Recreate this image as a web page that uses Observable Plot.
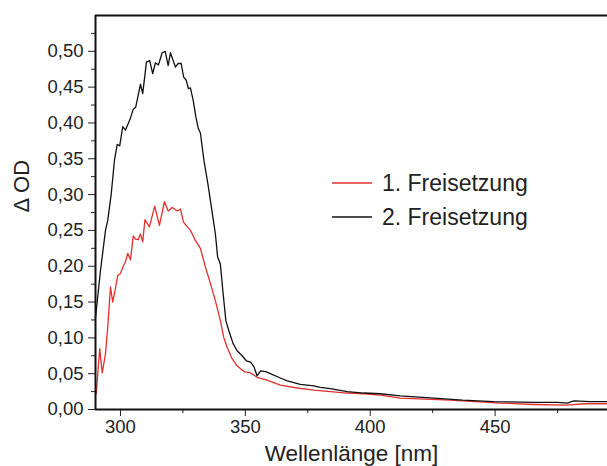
<!DOCTYPE html>
<html>
<head>
<meta charset="utf-8">
<script src="https://cdn.jsdelivr.net/npm/d3@7"></script>
<script src="https://cdn.jsdelivr.net/npm/@observablehq/plot@0.6"></script>
<style>
  html, body { margin: 0; padding: 0; background: #fff; }
  #wrap { position: relative; width: 607px; height: 466px; font-family: "Liberation Sans", Arial, sans-serif; }
  #legend { position: absolute; left: 332px; top: 166px; font-size: 23px; color: #222; line-height: 34px; }
  #legend .row { display: flex; align-items: center; height: 34px; }
  #legend svg { margin-right: 10px; }
</style>
</head>
<body>
<div id="wrap"><div id="chart"></div>
<div id="legend"></div></div>
<script>
// Wavelength (nm) and ΔOD for the two release experiments
const seriesNames = ["1. Freisetzung", "2. Freisetzung"];
const seriesColors = ["#e3302d", "#111111"];

const wl1 = [290.3,291.7,292.7,294,294.9,296,296.9,298,298.9,300,301.1,302,302.9,304,305.1,306,307.1,308,308.9,309.8,311.6,313.7,315.6,317.6,319.1,320.7,322.7,324,325.2,326.5,328,330,332,334,336,338,340,341.3,342.7,344.7,346.7,349.4,352.1,354.7,358.7,364,370.8,377.4,384,390.8,397.4,404,412,432,452,465.5,478.8,485.5,494.8];
const od1 = [0.022,0.085,0.051,0.078,0.115,0.171,0.150,0.169,0.187,0.190,0.200,0.206,0.218,0.209,0.242,0.238,0.237,0.245,0.234,0.265,0.255,0.284,0.257,0.290,0.277,0.282,0.277,0.280,0.262,0.256,0.250,0.236,0.225,0.199,0.176,0.152,0.124,0.101,0.087,0.071,0.061,0.053,0.051,0.045,0.041,0.034,0.030,0.027,0.025,0.023,0.022,0.020,0.016,0.013,0.009,0.007,0.006,0.008,0.008];

const wl2 = [290,292,294,294.9,296.3,297.6,298.7,299.7,300.9,302,303.7,305.1,306.1,308,308.9,310.4,311.7,312.9,314,315.2,316.7,317.9,319.1,320,322,323.1,324.3,325.3,326.3,327.2,328,329.1,330.2,331.1,332,333.4,335,336.3,338,338.9,340,341.1,342.2,343.4,345.1,346.7,348.7,350.4,352.1,353.4,354.7,356.1,358.1,360,364,366.8,372,377.4,380,384,390.8,397.4,404,412,425.5,437,449.5,465.5,474.8,479,481.5,488,494.8];
const od2 = [0.128,0.194,0.250,0.264,0.301,0.348,0.370,0.368,0.395,0.390,0.404,0.419,0.422,0.454,0.441,0.485,0.487,0.469,0.484,0.481,0.498,0.500,0.480,0.498,0.478,0.483,0.483,0.464,0.460,0.448,0.449,0.432,0.408,0.393,0.386,0.348,0.315,0.285,0.245,0.213,0.203,0.162,0.124,0.110,0.092,0.082,0.075,0.068,0.066,0.060,0.047,0.054,0.053,0.050,0.044,0.040,0.035,0.033,0.031,0.029,0.025,0.023,0.022,0.019,0.016,0.013,0.011,0.010,0.010,0.009,0.012,0.011,0.011];

const xTicks = [300, 350, 400, 450];
const xMinor = [325, 375, 425, 475];
const yTicks = [0, 0.05, 0.10, 0.15, 0.20, 0.25, 0.30, 0.35, 0.40, 0.45, 0.50];
const yMinor = [0.025, 0.075, 0.125, 0.175, 0.225, 0.275, 0.325, 0.375, 0.425, 0.475, 0.525];
const xDomain = [290, 495];
const yDomain = [0, 0.55];
const xLabel = "Wellenlänge [nm]";
const yLabel = "\u0394 OD";

const s1 = wl1.map((x, i) => ({x, y: od1[i]}));
const s2 = wl2.map((x, i) => ({x, y: od2[i]}));
const fmt = v => v.toFixed(2).replace(".", ",");

const chart = Plot.plot({
  width: 607,
  height: 466,
  marginLeft: 95,
  marginRight: 0,
  marginTop: 15,
  marginBottom: 57,
  style: {fontFamily: "'Liberation Sans', Arial, sans-serif", fontSize: "18px", color: "#222", background: "#fff"},
  x: {domain: xDomain},
  y: {domain: yDomain},
  marks: [
    Plot.axisX({ticks: xTicks, tickFormat: d => String(d), tickSize: 7, tickPadding: 3, tickStrokeWidth: 2, label: null, fontSize: 18.5}),
    Plot.axisX({ticks: xMinor, tickFormat: null, text: null, tickSize: 4, tickStrokeWidth: 2, label: null}),
    Plot.axisY({ticks: yTicks, tickFormat: fmt, tickSize: 7, tickPadding: 5, tickStrokeWidth: 2, label: null, fontSize: 18.5}),
    Plot.axisY({ticks: yMinor, text: null, tickSize: 4, tickStrokeWidth: 2, label: null}),
    Plot.line(s1, {x: "x", y: "y", stroke: seriesColors[0], strokeWidth: 1.3}),
    Plot.line(s2, {x: "x", y: "y", stroke: seriesColors[1], strokeWidth: 1.3}),
    Plot.ruleX([xDomain[0]], {stroke: "#111", strokeWidth: 2}),
    Plot.ruleY([yDomain[0]], {stroke: "#111", strokeWidth: 2}),
    Plot.ruleY([yDomain[1]], {stroke: "#111", strokeWidth: 2}),
    Plot.text([xLabel], {frameAnchor: "bottom", dy: 51, fontSize: 22.5, fill: "#222"}),
    Plot.text([yLabel], {frameAnchor: "left", dx: -74, rotate: -90, fontSize: 22, fill: "#222"})
  ]
});
document.getElementById("chart").appendChild(chart);

const legend = document.getElementById("legend");
seriesNames.forEach((name, i) => {
  const row = document.createElement("div");
  row.className = "row";
  row.innerHTML = `<svg width="40" height="4"><line x1="0" x2="40" y1="2" y2="2" stroke="${seriesColors[i]}" stroke-width="1.5"/></svg><span>${name}</span>`;
  legend.appendChild(row);
});
</script>
</body>
</html>
